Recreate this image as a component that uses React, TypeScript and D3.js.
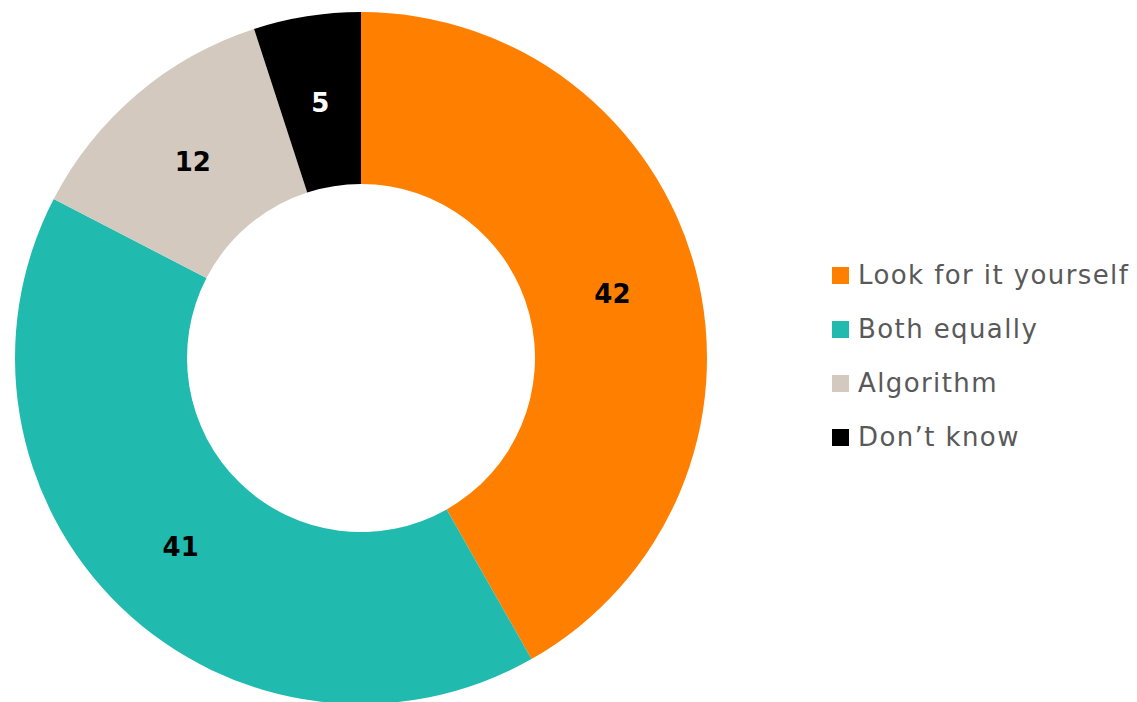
import React from "react";
import * as d3 from "d3";

const categories = ["Look for it yourself", "Both equally", "Algorithm", "Don\u2019t know"];
const values = [41.8, 40.8, 12.4, 5.0];
const colors = ["#FF7F00", "#20BAAF", "#D3C9BF", "#000000"];
const labelColors = ["#000000", "#000000", "#000000", "#FFFFFF"];

export default function App() {
  const W = 1137, H = 702;
  const cx = 361, cy = 358;
  const outerR = 346, innerR = 174;
  const pie = d3.pie<number>().sort(null).value((d) => d)(values);
  const arc = d3.arc<d3.PieArcDatum<number>>().innerRadius(innerR).outerRadius(outerR);
  const labelArc = d3.arc<d3.PieArcDatum<number>>().innerRadius((innerR + outerR) / 2).outerRadius((innerR + outerR) / 2);
  const fmt = d3.format(".0f");
  const legendX = 832, legendY0 = 275, legendStep = 54;
  return (
    <svg width={W} height={H} style={{ position: "absolute", left: 0, top: 0 }}>
      <rect width={W} height={H} fill="#fff" />
      <g transform={`translate(${cx},${cy})`}>
        {pie.map((p, i) => (
          <path key={i} d={arc(p) || ""} fill={colors[i]} />
        ))}
        {pie.map((p, i) => {
          const [x, y] = labelArc.centroid(p);
          return (
            <text key={i} x={x} y={y + 2} textAnchor="middle" dominantBaseline="central"
              fontFamily="'DejaVu Sans', sans-serif" fontWeight="bold" fontSize={26} fill={labelColors[i]}>
              {fmt(values[i])}
            </text>
          );
        })}
      </g>
      {categories.map((c, i) => (
        <g key={c} transform={`translate(${legendX},${legendY0 + i * legendStep})`}>
          <rect x={0} y={-8} width={17} height={17} fill={colors[i]} />
          <text x={26} y={0} dominantBaseline="central" fontFamily="'DejaVu Sans', sans-serif"
            fontSize={26} letterSpacing={1.4} fill="#595959">{c}</text>
        </g>
      ))}
    </svg>
  );
}
